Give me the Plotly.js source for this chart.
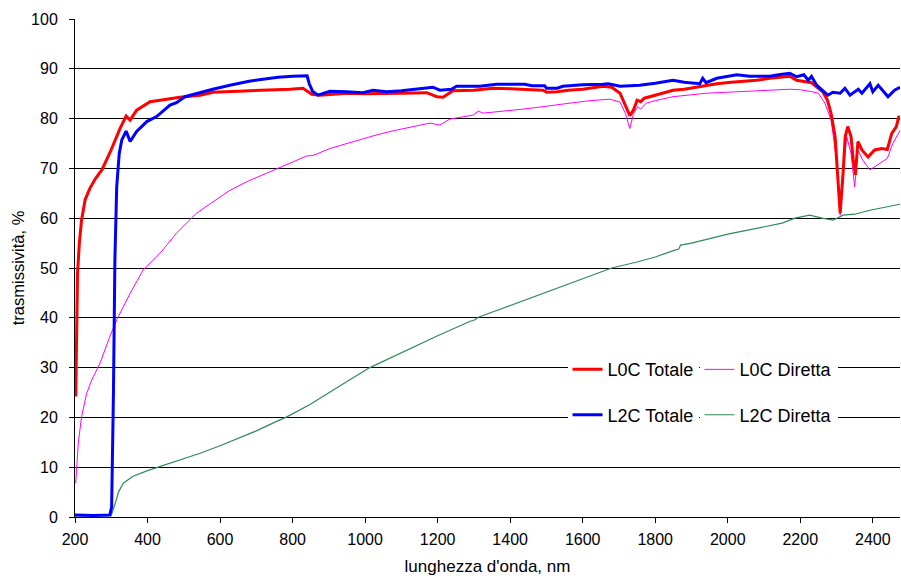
<!DOCTYPE html>
<html>
<head>
<meta charset="utf-8">
<script src="https://cdn.plot.ly/plotly-3.0.1.min.js"></script>
<style>html,body{margin:0;padding:0;background:#fff;}#chart{width:901px;height:578px;}</style>
</head>
<body>
<div id="chart"></div>
<script>
// L0C Totale
const l0cTotWl = [202,205,207,212,218,228,241,257,274,296,324,341,352,370,390,407,453,489,545,580,650,700,750,793,829,842,853,875,903,950,1000,1041,1100,1170,1198,1215,1242,1300,1352,1400,1450,1490,1501,1530,1560,1600,1656,1680,1703,1718,1730,1740,1750,1760,1770,1800,1849,1880,1942,1970,2010,2080,2116,2150,2171,2190,2231,2245,2262,2275,2285,2296,2303,2310,2318,2324,2331,2340,2346,2352,2359,2370,2387,2405,2425,2440,2452,2465,2472,2476];
const l0cTot = [24.2,38.2,49,55,59.6,63.7,66,68,69.7,73.1,78.0,80.5,79.7,81.7,82.7,83.4,83.9,84.3,84.7,85.3,85.5,85.6,85.8,85.9,86.1,85.4,84.9,84.7,84.9,85.1,85.0,85.1,85.1,85.2,84.4,84.3,85.6,85.7,86.1,86.0,85.9,85.7,85.3,85.4,85.7,85.9,86.5,86.3,85.1,82.4,80.6,81.7,83.7,83.4,84.1,84.7,85.7,85.9,86.7,87.0,87.3,87.7,88.1,88.4,88.5,87.7,87.2,86.4,85.4,83.7,81,76.4,68.3,61,69,76.4,78.4,76.4,71.7,68.7,75.4,73.7,72.3,73.7,74.0,73.8,77,78.4,80.5,79.7];

// L0C Diretta
const l0cDirWl = [202,209,218,232,246,269,296,315,352,388,434,480,535,581,625,673,720,765,800,839,857,903,950,995,1040,1087,1130,1179,1206,1234,1298,1312,1326,1372,1435,1480,1529,1575,1620,1675,1703,1718,1730,1740,1752,1760,1775,1800,1849,1900,1942,2000,2080,2116,2171,2200,2231,2250,2268,2285,2300,2310,2320,2328,2340,2350,2359,2372,2392,2420,2440,2455,2476];
const l0cDir = [6.8,14.8,20.1,24.8,27.5,30.9,36.2,39.6,44.9,49.6,52.9,57,61,63.3,65.5,67.3,68.8,70.2,71.2,72.5,72.6,74.0,75.0,76.0,76.9,77.7,78.4,79.1,78.7,79.9,80.7,81.5,81.1,81.4,81.9,82.3,82.7,83.2,83.6,83.9,83.3,81,78.0,81,82.4,81.9,83.1,83.6,84.4,84.8,85.1,85.3,85.5,85.7,85.9,85.8,85.4,85.1,83.1,79.7,71.7,60.6,70.3,76.4,73,66.3,73.7,71.7,69.7,71,72,75,77.7];

// L2C Totale
const l2cTotWl = [200,250,296,301,306,310,315,322,329,341,352,370,398,425,462,480,503,545,580,627,680,718,760,800,840,846,855,870,903,949,994,1022,1059,1100,1133,1187,1206,1238,1252,1316,1362,1400,1440,1460,1495,1500,1530,1545,1600,1656,1670,1703,1757,1800,1849,1880,1923,1931,1940,1970,2025,2060,2100,2116,2140,2171,2190,2210,2222,2231,2245,2262,2276,2290,2310,2323,2337,2360,2370,2392,2400,2415,2430,2442,2460,2475];
const l2cTot = [0.4,0.3,0.4,2,24.9,51.6,66.3,73,75.7,77.5,75.4,77.4,79.4,80.4,82.7,83.2,84.4,85.3,85.9,86.7,87.5,87.9,88.3,88.5,88.6,87,85.5,84.7,85.5,85.4,85.2,85.7,85.4,85.6,85.9,86.3,85.7,85.9,86.5,86.5,86.9,86.9,86.9,86.6,86.6,86.1,86.1,86.5,86.8,86.9,87.0,86.5,86.7,87.1,87.7,87.3,87.0,88.1,87.2,88.1,88.8,88.5,88.6,88.5,88.8,89.1,88.4,88.8,87.7,88.5,86.7,85.6,84.7,85.3,85.1,86.1,84.7,85.9,85.1,87.0,85.4,86.7,85.4,84.4,85.7,86.3];

// L2C Diretta
const l2cDirWl = [200,250,290,300,310,320,333,360,400,450,500,545,600,663,700,750,784,848,900,950,1013,1100,1200,1290,1303,1312,1400,1500,1600,1680,1750,1800,1850,1865,1870,1900,2000,2100,2150,2185,2226,2260,2290,2318,2350,2392,2430,2461,2475];
const l2cDir = [0.2,0.2,0.2,0.3,2.5,5.0,6.8,8.2,9.3,10.5,11.7,12.8,14.3,16.1,17.3,19.0,20.1,22.6,25.0,27.2,30.0,33.0,36.4,39.3,39.6,40.1,42.5,45.2,47.9,50.0,51.2,52.2,53.5,53.8,54.6,55.0,56.8,58.2,59.0,60.0,60.6,60.0,59.6,60.6,60.8,61.6,62.1,62.6,62.8];

const names = ['L0C Totale','L0C Diretta','L2C Totale','L2C Diretta'];
const FONT = 'Liberation Sans, Arial, sans-serif';

const traces = [
  {x:l0cDirWl, y:l0cDir, name:names[1], mode:'lines', line:{color:'#FF00FF', width:1}, legend:'legend2', legendgroup:'a2'},
  {x:l2cDirWl, y:l2cDir, name:names[3], mode:'lines', line:{color:'#2E8B57', width:1.2}, legend:'legend2', legendgroup:'b2'},
  {x:l0cTotWl, y:l0cTot, name:names[0], mode:'lines', line:{color:'#FF0000', width:3}, legendgroup:'a1'},
  {x:l2cTotWl, y:l2cTot, name:names[2], mode:'lines', line:{color:'#0000FF', width:3}, legendgroup:'b1'}
];

const legendCommon = {
  bgcolor:'#FFFFFF', borderwidth:0, font:{family:FONT, size:18, color:'#000'},
  tracegroupgap:19, yanchor:'top', xanchor:'left', orientation:'v', traceorder:'grouped'
};

const layout = {
  width:901, height:578,
  margin:{l:75, r:1, t:19, b:61},
  paper_bgcolor:'#FFFFFF', plot_bgcolor:'#FFFFFF',
  font:{family:FONT, color:'#000'},
  showlegend:true,
  legend:Object.assign({x:0.597, y:0.333}, legendCommon),
  legend2:Object.assign({x:0.757, y:0.333}, legendCommon),
  xaxis:{
    range:[200,2475], tick0:200, dtick:200, showgrid:false, zeroline:false,
    showline:true, linecolor:'#000', linewidth:1,
    ticks:'outside', ticklen:5, tickcolor:'#000', ticklabelstandoff:3,
    tickfont:{family:FONT, size:16, color:'#000'},
    title:{text:"lunghezza d'onda, nm", font:{family:FONT, size:17, color:'#000'}, standoff:12}
  },
  yaxis:{
    range:[0,100], tick0:0, dtick:10, showgrid:true, gridcolor:'#000', gridwidth:1, zeroline:false,
    showline:true, linecolor:'#000', linewidth:1,
    ticks:'outside', ticklen:5, tickcolor:'#000', ticklabelstandoff:8,
    tickfont:{family:FONT, size:16, color:'#000'},
    title:{text:'trasmissività, %', font:{family:FONT, size:16.5, color:'#000'}, standoff:2}
  }
};

Plotly.newPlot('chart', traces, layout, {displayModeBar:false, staticPlot:true});
</script>
</body>
</html>
